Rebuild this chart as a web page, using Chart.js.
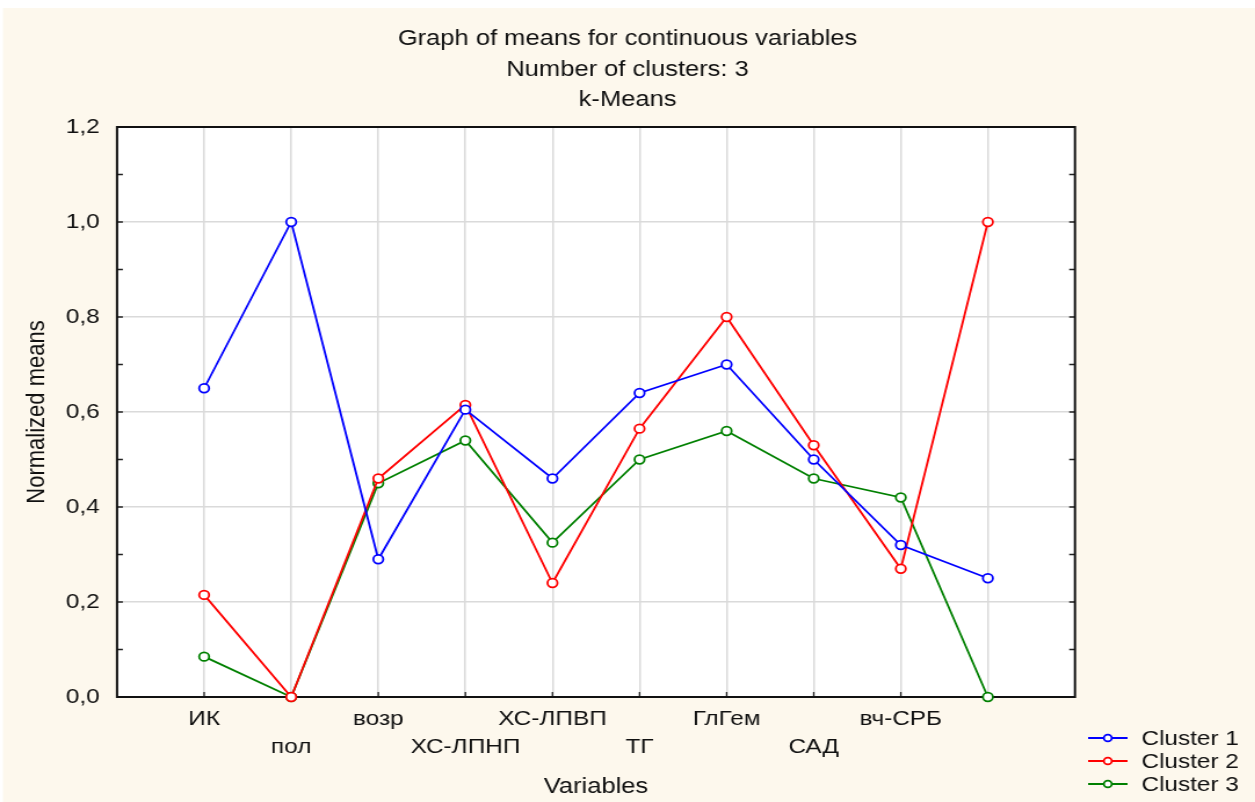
<!DOCTYPE html>
<html>
<head>
<meta charset="utf-8">
<title>Graph of means for continuous variables</title>
<script src="https://cdn.jsdelivr.net/npm/chart.js@4/dist/chart.umd.min.js"></script>
<style>
    html, body { margin: 0; padding: 0; background: #ffffff; overflow: hidden; }
    #wrap { width: 1255px; height: 802px; overflow: hidden; }
    /* the source picture is stretched a little horizontally */
    #meansChart { display: block; transform: scaleX(1.16); transform-origin: 0 0; }
</style>
</head>
<body>
<div id="wrap">
    <canvas id="meansChart" width="1082" height="802"></canvas>
</div>

<script>
// ===== Data =====
const categories = ['ИК', 'пол', 'возр', 'ХС-ЛПНП', 'ХС-ЛПВП', 'ТГ', 'ГлГем', 'САД', 'вч-СРБ', ''];
const cluster1 = [0.65, 1.0, 0.29, 0.605, 0.46, 0.64, 0.70, 0.50, 0.32, 0.25];
const cluster2 = [0.215, 0.0, 0.46, 0.615, 0.24, 0.565, 0.80, 0.53, 0.27, 1.0];
const cluster3 = [0.085, 0.0, 0.45, 0.54, 0.325, 0.50, 0.56, 0.46, 0.42, 0.0];
const seriesNames = ['Cluster 1', 'Cluster 2', 'Cluster 3'];
const yTicks = [0, 0.2, 0.4, 0.6, 0.8, 1.0, 1.2];
const titleLines = ['Graph of means for continuous variables', 'Number of clusters: 3', 'k-Means'];
const xTitle = 'Variables';
const yTitle = 'Normalized means';

document.addEventListener('DOMContentLoaded', () => {

    const font = '"Liberation Sans", Arial, sans-serif';
    const textColor = '#111111';
    const cream = '#fdf8ed';
    const gridColor = '#dadada';
    const colors = ['#0000ff', '#ff0000', '#008000'];

    // --- 1. Datasets built from the arrays ---
    const toPoints = arr => arr.map((v, i) => ({ x: i + 1, y: v }));
    const datasets = [cluster1, cluster2, cluster3].map((arr, i) => ({
        label: seriesNames[i],
        data: toPoints(arr),
        borderColor: colors[i],
        backgroundColor: colors[i],
        borderWidth: 1.8,
        pointRadius: 4.3,
        pointBorderWidth: 1.8,
        pointBackgroundColor: '#ffffff',
        pointBorderColor: colors[i],
        tension: 0,
        clip: false
    }));

    // --- 2. Background, frame, inner ticks, titles, legend ---
    const decorations = {
        id: 'decorations',
        beforeDraw(chart) {
            const { ctx, chartArea: a } = chart;
            ctx.save();
            ctx.fillStyle = '#ffffff';
            ctx.fillRect(0, 0, chart.width, chart.height);
            ctx.fillStyle = cream;
            ctx.fillRect(2.6, 8, chart.width, chart.height);
            ctx.fillStyle = '#ffffff';
            ctx.fillRect(a.left, a.top, a.right - a.left, a.bottom - a.top);
            ctx.restore();
        },
        beforeDatasetsDraw(chart) {
            const { ctx, chartArea: a, scales } = chart;
            ctx.save();
            ctx.strokeStyle = '#222222';
            ctx.lineWidth = 1.3;
            ctx.beginPath();
            // minor ticks on left and right borders, every 0.1
            for (let k = 1; k < 12; k++) {
                const y = scales.y.getPixelForValue(k / 10);
                ctx.moveTo(a.left, y); ctx.lineTo(a.left + 5, y);
                ctx.moveTo(a.right, y); ctx.lineTo(a.right - 5, y);
            }
            // ticks on bottom border at each variable
            categories.forEach((c, i) => {
                const x = scales.x.getPixelForValue(i + 1);
                ctx.moveTo(x, a.bottom); ctx.lineTo(x, a.bottom - 5);
            });
            ctx.stroke();
            ctx.lineWidth = 2;
            ctx.strokeStyle = '#111111';
            ctx.strokeRect(a.left, a.top, a.right - a.left, a.bottom - a.top);
            ctx.restore();
        },
        afterDraw(chart) {
            const { ctx, chartArea: a } = chart;
            ctx.save();
            ctx.fillStyle = textColor;

            // titles
            ctx.font = '22px ' + font;
            ctx.textAlign = 'center';
            ctx.textBaseline = 'middle';
            titleLines.forEach((t, i) => ctx.fillText(t, chart.width / 2, 39 + i * 30.5));

            // axis titles
            ctx.fillText(xTitle, (a.left + a.right) / 2, 787);
            ctx.save();
            ctx.translate(32, (a.top + a.bottom) / 2);
            ctx.rotate(-Math.PI / 2);
            ctx.fillText(yTitle, 0, 0);
            ctx.restore();

            // legend
            ctx.font = '21px ' + font;
            ctx.textAlign = 'left';
            chart.data.datasets.forEach((ds, i) => {
                const y = 738 + i * 23;
                ctx.strokeStyle = ds.borderColor;
                ctx.lineWidth = 1.8;
                ctx.beginPath();
                ctx.moveTo(938, y); ctx.lineTo(972, y);
                ctx.stroke();
                ctx.beginPath();
                ctx.arc(955, y, 3.4, 0, Math.PI * 2);
                ctx.fillStyle = '#ffffff';
                ctx.fill();
                ctx.stroke();
                ctx.fillStyle = textColor;
                ctx.fillText(ds.label, 984, y + 1);
            });
            ctx.restore();
        }
    };

    // --- 3. Chart ---
    new Chart(document.getElementById('meansChart'), {
        type: 'line',
        data: { datasets },
        plugins: [decorations],
        options: {
            responsive: false,
            animation: false,
            devicePixelRatio: 1,
            layout: { padding: { left: 0, right: 155.3, top: 127, bottom: 0 } },
            plugins: {
                legend: { display: false },
                title: { display: false },
                tooltip: { enabled: false }
            },
            scales: {
                x: {
                    type: 'linear',
                    min: 0,
                    max: categories.length + 1,
                    afterFit: scale => { scale.height = 105; },
                    afterBuildTicks: scale => {
                        scale.ticks = [0].concat(categories.map((c, i) => i + 1), [categories.length + 1])
                            .map(v => ({ value: v }));
                    },
                    border: { display: false },
                    grid: {
                        drawTicks: false,
                        lineWidth: 1.5,
                        color: ctx => (ctx.tick && ctx.tick.value >= 1 && ctx.tick.value <= categories.length) ? gridColor : 'rgba(0,0,0,0)'
                    },
                    ticks: {
                        autoSkip: false,
                        maxRotation: 0,
                        padding: 9,
                        color: textColor,
                        font: { family: font, size: 21, lineHeight: 1.3 },
                        callback: v => {
                            if (v < 1 || v > categories.length) return '';
                            const label = categories[v - 1];
                            return (v % 2 === 1) ? label : ['', label];
                        }
                    }
                },
                y: {
                    min: 0,
                    max: 1.2,
                    afterFit: scale => { scale.width = 100.9; },
                    afterBuildTicks: scale => { scale.ticks = yTicks.map(v => ({ value: v })); },
                    border: { display: false },
                    grid: {
                        drawTicks: false,
                        lineWidth: 1.5,
                        color: ctx => (ctx.tick && ctx.tick.value > 0.01 && ctx.tick.value < 1.19) ? gridColor : 'rgba(0,0,0,0)'
                    },
                    ticks: {
                        padding: 15,
                        color: textColor,
                        font: { family: font, size: 21 },
                        callback: v => Number(v).toFixed(1).replace('.', ',')
                    }
                }
            }
        }
    });
});
</script>
</body>
</html>
